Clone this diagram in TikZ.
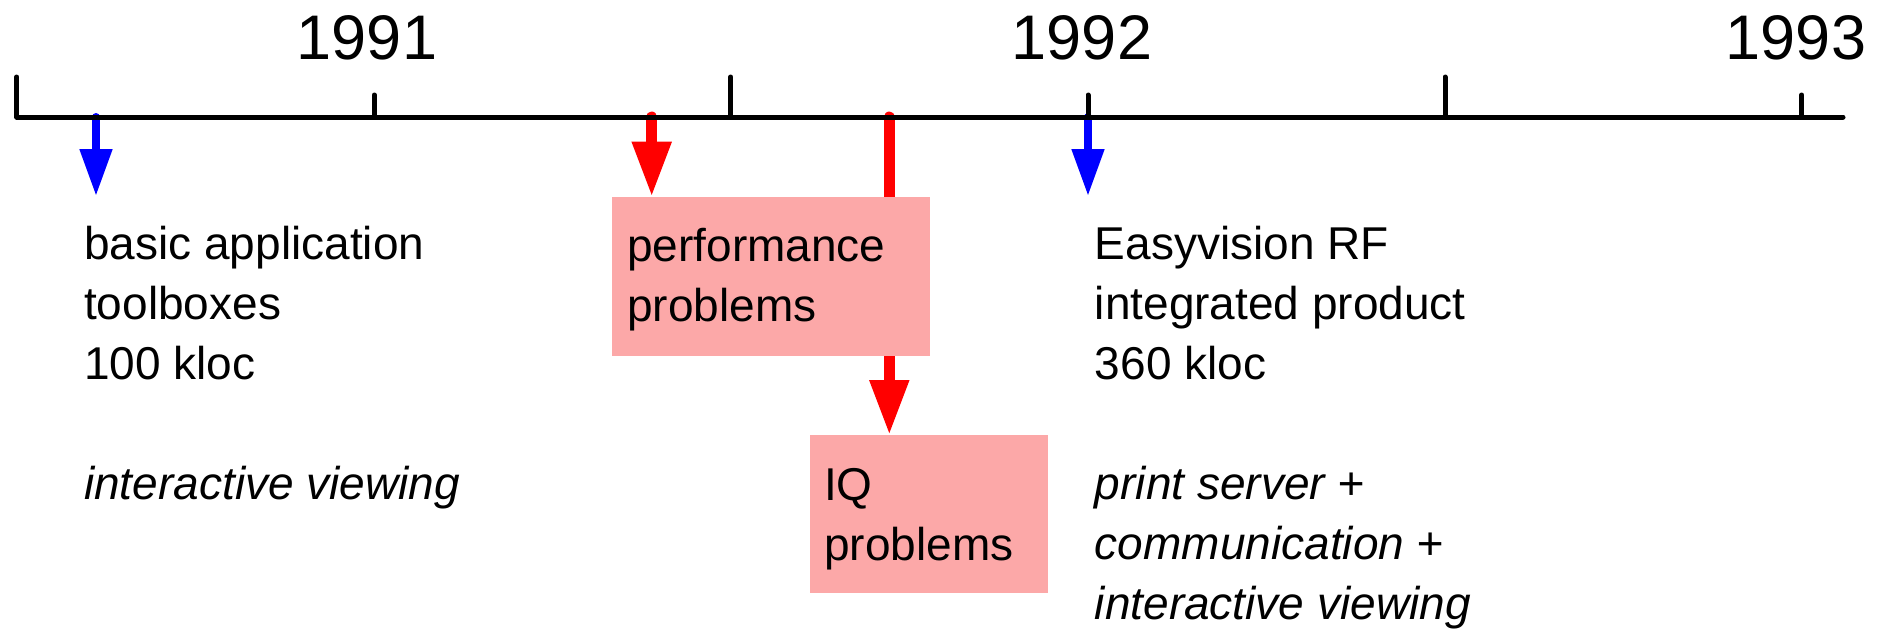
\documentclass[tikz,border=0pt]{standalone}
\usepackage{fontspec}
\setmainfont{Liberation Sans}
\usetikzlibrary{arrows.meta,backgrounds}
\definecolor{boxpink}{RGB}{252,168,168}
\newcommand\bodyfont{\fontsize{46}{60}\selectfont}
\newcommand\yearfont{\fontsize{63}{70}\selectfont}
\tikzset{
  axisline/.style={line width=5pt, line cap=round, line join=round},
  bluearr/.style={blue, line width=8pt, line cap=round, -{Triangle[width=31pt,length=47pt]}},
  redarr/.style={red, line width=11pt, line cap=round, -{Triangle[width=37pt,length=55pt]}},
  redline/.style={red, line width=11pt, line cap=round},
  pbox/.style={fill=boxpink, draw=none, inner sep=0pt, outer sep=0pt, anchor=north west},
  txt/.style={align=left, inner sep=0pt, font=\bodyfont, anchor=base west},
  year/.style={font=\yearfont, inner sep=0pt, anchor=base},
}
\begin{document}
\begin{tikzpicture}[x=1pt,y=-1pt]
\useasboundingbox (0,0) rectangle (1883,632);
% axis
\coordinate (a0) at (16.7,117);
\coordinate (aend) at (1843,117);
\draw[axisline] (16.7,77) -- (a0) -- (aend);
\foreach \x in {730.7,1445} \draw[axisline] (\x,77) -- (\x,117);
\foreach \x in {374.3,1088,1801.7} \draw[axisline] (\x,95) -- (\x,117);
% years
\node[year] (y1991) at (367,59.3) {1991};
\node[year] (y1992) at (1082,59.3) {1992};
\node[year] (y1993) at (1796,59.3) {1993};
% boxes
\node[pbox, minimum width=318pt, minimum height=159pt] (box1) at (612,196.7) {};
\node[pbox, minimum width=238.3pt, minimum height=158.3pt] (box2) at (810,435) {};
% texts (anchored at the baseline of their last line)
\node[txt] (basic) at (84,499) {basic application\\toolboxes\\100 kloc\\[60pt]\textit{interactive viewing}};
\node[txt] (easy) at (1094.7,619) {Easyvision RF\\integrated product\\360 kloc\\[60pt]\textit{print server +}\\\textit{communication +}\\\textit{interactive viewing}};
\node[txt] (perf) at (627,321.7) {performance\\problems};
\node[txt] (iq) at (824,560.7) {IQ\\problems};
% connectors
\coordinate (b1) at (96,117);
\coordinate (b1tip) at (96,196);
\coordinate (b2) at (1088,117);
\coordinate (b2tip) at (1088,196);
\coordinate (r1) at (651.7,117);
\coordinate (r2) at (889.3,117);
\begin{scope}[on background layer]
\draw[bluearr] (b1) -- (b1tip);
\draw[bluearr] (b2) -- (b2tip);
\draw[redarr] (r1) -- (r1 |- box1.north);
\draw[redline] (r2) -- (r2 |- box1.north);
\draw[redarr] (r2 |- box1.south) -- (r2 |- box2.north);
\end{scope}
\end{tikzpicture}
\end{document}
